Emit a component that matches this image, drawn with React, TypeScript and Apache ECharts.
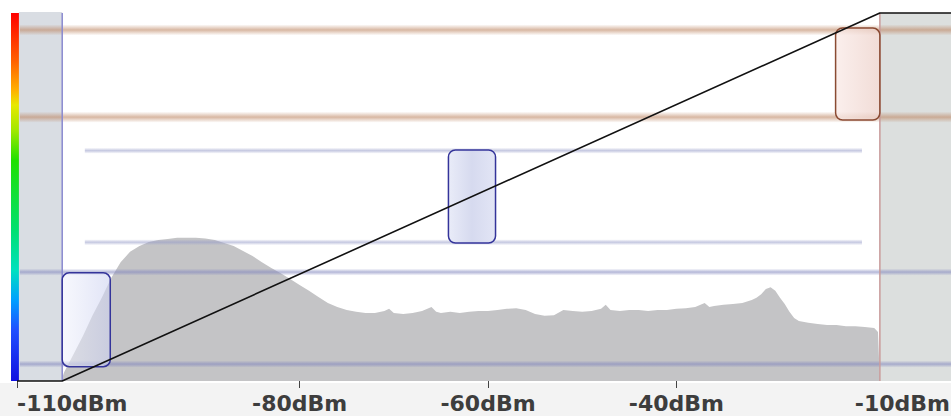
import React, { useEffect, useRef } from "react";
import * as echarts from "echarts";

// Axis tick labels (input level, dBm)
const tickValues = [-110, -80, -60, -40, -10];

// Level histogram (input level dBm -> relative occurrence %)
const histX = [
  -105.2, -105, -104, -103, -102, -101, -100, -99, -98, -97, -96, -95, -94, -93, -92, -91, -90,
  -89, -88, -87, -86, -85, -84, -83, -82, -81, -80, -79, -78, -77, -76, -75, -74, -73, -72,
  -71, -70.5, -70, -69, -68, -67, -66, -65.5, -65, -64, -63, -62, -61, -60, -59, -58, -57,
  -56, -55, -54, -53, -52, -51, -50, -49, -48, -47.5, -47, -46, -45, -44, -43, -42, -41, -40,
  -39, -38, -37, -36.5, -36, -35, -34, -33, -32, -31.5, -31, -30.5, -30, -29.5, -29, -28.5,
  -28, -27.5, -27, -26, -25, -24, -23, -22, -21, -20, -19, -18.6, -18.4,
];
const histPct = [
  0.8, 2.4, 7.3, 12.2, 17.7, 22.6, 28.0, 32.3, 35.1, 36.7, 37.8, 38.3, 38.6, 38.9, 38.9, 38.9, 38.7,
  38.3, 37.5, 36.7, 35.3, 34.0, 32.3, 30.7, 29.3, 27.7, 26.1, 24.5, 22.8, 21.2, 20.1, 19.3, 18.8, 18.5, 18.5,
  19.0, 19.6, 18.5, 18.2, 18.5, 19.0, 20.1, 18.8, 18.5, 18.8, 18.5, 18.8, 19.0, 19.0, 19.3, 19.6, 19.8,
  19.3, 18.2, 17.7, 17.9, 19.3, 19.0, 18.8, 19.0, 19.6, 20.7, 19.3, 19.0, 19.3, 19.3, 19.0, 19.3, 19.3, 19.6,
  19.8, 20.1, 21.2, 20.1, 20.4, 20.7, 20.9, 21.2, 22.0, 22.6, 23.6, 25.0, 25.5, 24.5, 22.6, 20.9,
  18.8, 17.1, 16.3, 15.8, 15.5, 15.2, 15.2, 14.9, 14.9, 14.7, 14.4, 13.3, 0,
];

// Transfer curve (input dBm -> output dBm)
const curveX = [-110, -105.2, -18.4, -10];
const curveY = [-110, -110, -10, -10];

// Limit bands [xStart, xEnd, level]
const upperBands = [
  [-109.7, -10, -14.6],
  [-109.7, -10, -38.3],
];
const innerLines = [
  [-102.8, -20.3, -47.4],
  [-102.8, -20.3, -72.3],
];
const lowerLines = [
  [-109.7, -10, -80.4],
  [-109.7, -10, -105.4],
];

// Range boxes [x0, x1, yLow, yHigh]
const rangeBoxes = [
  [-105.2, -100.1, -106.1, -80.6],
  [-64.2, -59.2, -72.5, -47.2],
  [-23.1, -18.4, -39.1, -14.1],
];

// Out-of-range regions [x0, x1, yLow, yHigh]
const outRegions = [
  [-109.8, -105.2, -110, -9.7],
  [-18.4, -10, -110, -10],
];

// Range limit markers (input dBm)
const limitMarkers = [-105.2, -18.4];

const FONT = "DejaVu Sans";

export default function App() {
  const ref = useRef<HTMLDivElement>(null);
  useEffect(() => {
    if (!ref.current) return;
    const chart = echarts.init(ref.current, undefined, { renderer: "svg" });

    const boxStyles = [
      {
        fill: new echarts.graphic.LinearGradient(0, 0, 1, 0, [
          { offset: 0, color: "rgba(240,242,252,0.55)" },
          { offset: 1, color: "rgba(205,210,240,0.6)" },
        ]),
        stroke: "#34349a",
      },
      {
        fill: new echarts.graphic.LinearGradient(0, 0, 1, 0, [
          { offset: 0, color: "rgba(232,235,248,0.95)" },
          { offset: 0.5, color: "rgba(212,216,238,0.95)" },
          { offset: 1, color: "rgba(225,228,245,0.95)" },
        ]),
        stroke: "#34349a",
      },
      {
        fill: new echarts.graphic.LinearGradient(0, 0, 1, 0, [
          { offset: 0, color: "rgba(250,235,232,0.8)" },
          { offset: 1, color: "rgba(238,212,205,0.8)" },
        ]),
        stroke: "#8a4a32",
      },
    ];
    const regionFills = ["rgba(208,212,220,0.8)", "rgba(214,217,216,0.85)"];
    const markerColors = ["#8a8ad0", "#c89a9a"];

    const bandSeries = (data: number[][], h: number, rgb: string, a: number, name: string) => ({
      type: "custom",
      name,
      data,
      z: 4,
      renderItem: (params: any, api: any) => {
        const p0 = api.coord([api.value(0), api.value(2)]);
        const p1 = api.coord([api.value(1), api.value(2)]);
        return {
          type: "rect",
          shape: { x: p0[0], y: p0[1] - h / 2, width: p1[0] - p0[0], height: h },
          style: {
            fill: new echarts.graphic.LinearGradient(0, 0, 0, 1, [
              { offset: 0, color: `rgba(${rgb},0)` },
              { offset: 0.5, color: `rgba(${rgb},${a})` },
              { offset: 1, color: `rgba(${rgb},0)` },
            ]),
          },
        };
      },
    });

    chart.setOption({
      animation: false,
      backgroundColor: "#ffffff",
      grid: { left: 17, top: 13, width: 942, height: 368, outerBoundsMode: "none", containLabel: false },
      xAxis: {
        type: "value",
        min: -110,
        max: -10,
        axisLine: { show: false },
        splitLine: { show: false },
        axisTick: {
          show: true,
          customValues: tickValues,
          length: 7,
          lineStyle: { color: "#444", width: 1 },
        },
        axisLabel: {
          customValues: tickValues,
          margin: 11,
          fontFamily: FONT,
          fontWeight: "bold",
          fontSize: 22,
          color: "#3d3d3d",
          alignMinLabel: "left",
          alignMaxLabel: "right",
          formatter: (v: number) => (v === -10 ? "{r|" + v + "dBm}" : v + "dBm"),
          rich: {
            r: {
              fontFamily: FONT,
              fontWeight: "bold",
              fontSize: 22,
              color: "#3d3d3d",
              padding: [0, 9, 0, 0],
            },
          },
        },
      },
      yAxis: [
        { type: "value", min: -110, max: -10, show: false },
        { type: "value", min: 0, max: 100, show: false },
      ],
      graphic: [
        {
          type: "rect",
          z: -10,
          shape: { x: 0, y: 383, width: 951, height: 33 },
          style: { fill: "#f3f3f3" },
        },
        {
          type: "rect",
          shape: { x: 11, y: 13, width: 8, height: 368 },
          style: {
            fill: new echarts.graphic.LinearGradient(0, 0, 0, 1, [
              { offset: 0, color: "#ff0000" },
              { offset: 0.13, color: "#ff6000" },
              { offset: 0.21, color: "#ffb000" },
              { offset: 0.25, color: "#e8e800" },
              { offset: 0.32, color: "#a0e800" },
              { offset: 0.4, color: "#20e000" },
              { offset: 0.59, color: "#00e070" },
              { offset: 0.7, color: "#00e0c0" },
              { offset: 0.78, color: "#00a0ff" },
              { offset: 0.86, color: "#2050ff" },
              { offset: 1, color: "#1010e0" },
            ]),
          },
        },
      ],
      series: [
        {
          type: "custom",
          name: "regions",
          data: outRegions,
          z: 1,
          renderItem: (params: any, api: any) => {
            const p0 = api.coord([api.value(0), api.value(3)]);
            const p1 = api.coord([api.value(1), api.value(2)]);
            return {
              type: "rect",
              shape: { x: p0[0], y: p0[1], width: p1[0] - p0[0], height: p1[1] - p0[1] },
              style: { fill: regionFills[params.dataIndex] },
            };
          },
        },
        {
          type: "line",
          name: "histogram",
          yAxisIndex: 1,
          data: histX.map((x, i) => [x, histPct[i]]),
          showSymbol: false,
          z: 2,
          lineStyle: { width: 0 },
          areaStyle: { color: "#c4c4c6", opacity: 1 },
        },
        bandSeries(upperBands, 11, "190,135,100", 0.6, "upper"),
        bandSeries(innerLines, 6, "150,155,200", 0.55, "inner"),
        bandSeries(lowerLines, 7, "130,135,190", 0.6, "lower"),
        {
          type: "custom",
          name: "markers",
          data: limitMarkers.map((x) => [x]),
          z: 5,
          renderItem: (params: any, api: any) => {
            const p0 = api.coord([api.value(0), -10]);
            const p1 = api.coord([api.value(0), -110]);
            return {
              type: "line",
              shape: { x1: p0[0], y1: p0[1], x2: p1[0], y2: p1[1] },
              style: { stroke: markerColors[params.dataIndex], lineWidth: 1.5 },
            };
          },
        },
        {
          type: "custom",
          name: "boxes",
          data: rangeBoxes,
          z: 6,
          renderItem: (params: any, api: any) => {
            const p0 = api.coord([api.value(0), api.value(3)]);
            const p1 = api.coord([api.value(1), api.value(2)]);
            const s = boxStyles[params.dataIndex];
            return {
              type: "rect",
              shape: { x: p0[0], y: p0[1], width: p1[0] - p0[0], height: p1[1] - p0[1], r: 7 },
              style: { fill: s.fill, stroke: s.stroke, lineWidth: 1.5 },
            };
          },
        },
        {
          type: "line",
          name: "transfer",
          data: curveX.map((x, i) => [x, curveY[i]]),
          showSymbol: false,
          clip: false,
          z: 8,
          lineStyle: { color: "#111111", width: 1.6 },
        },
      ],
    });
    return () => chart.dispose();
  }, []);
  return (
    <div
      ref={ref}
      style={{ position: "fixed", left: 0, top: 0, width: 951, height: 416 }}
    />
  );
}
